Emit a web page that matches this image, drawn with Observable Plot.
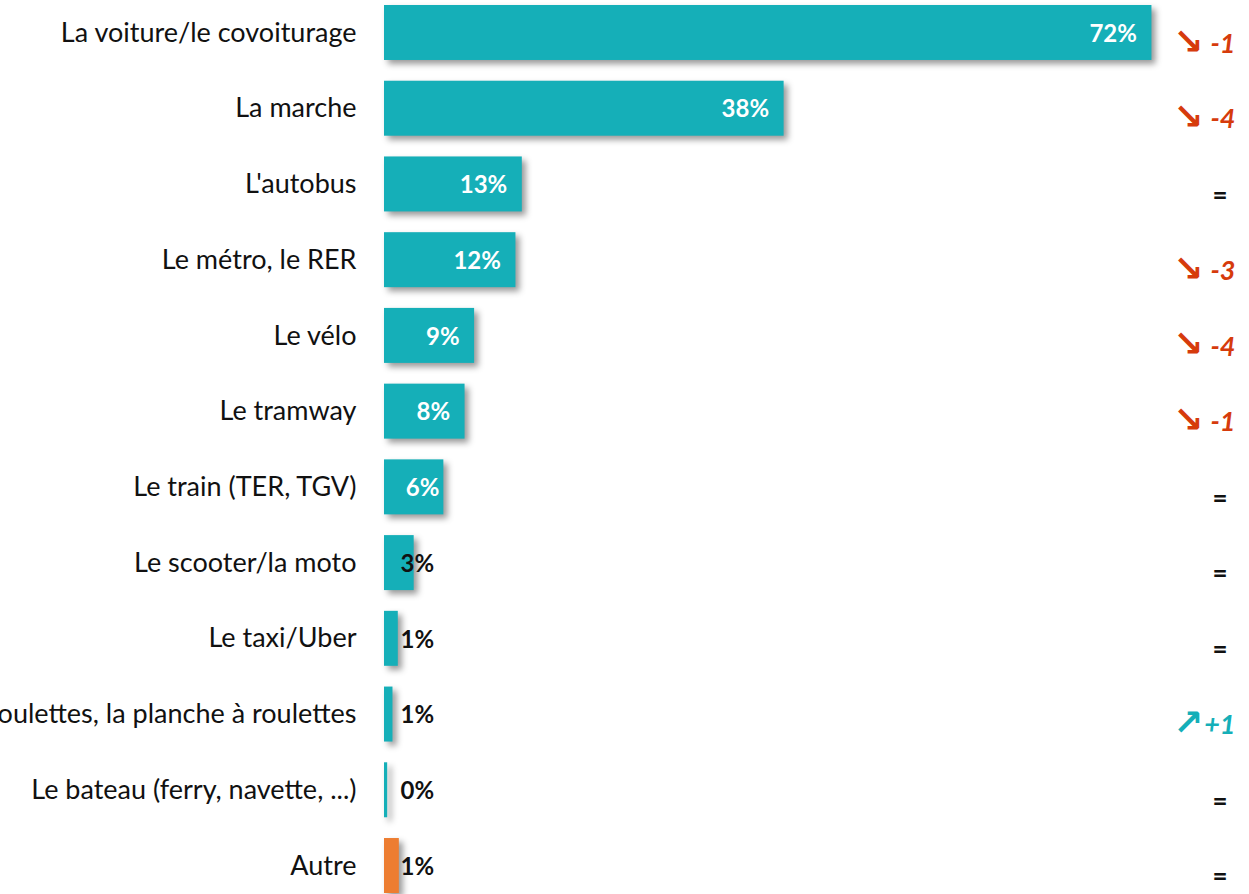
<!DOCTYPE html>
<html>
<head>
<meta charset="utf-8">
<script src="https://cdn.jsdelivr.net/npm/d3@7"></script>
<script src="https://cdn.jsdelivr.net/npm/@observablehq/plot@0.6"></script>
<style>
  html, body { margin: 0; padding: 0; background: #fff; overflow: hidden; }
  #chart { width: 1249px; height: 894px; }
</style>
</head>
<body>
<div id="chart"></div>
<script>
const categories = [
  "La voiture/le covoiturage",
  "La marche",
  "L'autobus",
  "Le métro, le RER",
  "Le vélo",
  "Le tramway",
  "Le train (TER, TGV)",
  "Le scooter/la moto",
  "Le taxi/Uber",
  "Les patins à roulettes, la planche à roulettes",
  "Le bateau (ferry, navette, ...)",
  "Autre"
];
const values = [72.4, 37.7, 13.0, 12.4, 8.5, 7.6, 5.6, 2.8, 1.3, 0.8, 0.3, 1.4];
const valueLabels = ["72%", "38%", "13%", "12%", "9%", "8%", "6%", "3%", "1%", "1%", "0%", "1%"];
const changes = ["-1", "-4", "=", "-3", "-4", "-1", "=", "=", "=", "+1", "=", "="];
const groups = ["main", "main", "main", "main", "main", "main", "main", "main", "main", "main", "main", "other"];

const data = categories.map((c, i) => ({
  category: c,
  value: values[i],
  label: valueLabels[i],
  change: changes[i],
  group: groups[i]
}));

const teal = "#15AFB8";
const orange = "#ED7D31";
const red = "#D63B0C";
const font = "Lato, 'Open Sans', sans-serif";

const inside = data.filter(d => d.value >= 5);
const outside = data.filter(d => d.value < 5);
const trend = data.filter(d => d.change !== "=");
const same = data.filter(d => d.change === "=");
const arrowOf = d => d.change.startsWith("-") ? "\u2198" : "\u2197";
const colorOf = d => d.change.startsWith("-") ? red : teal;

const chart = Plot.plot({
  width: 1249,
  height: 894,
  marginLeft: 384,
  marginRight: 17,
  marginTop: 5,
  marginBottom: 1,
  style: { fontFamily: font, background: "#fff", overflow: "hidden" },
  x: { domain: [0, 80], axis: null },
  y: { domain: categories, paddingInner: 0.274, paddingOuter: 0, round: false, label: null },
  color: { domain: ["main", "other"], range: [teal, orange] },
  marks: [
    Plot.axisY({ tickSize: 0, tickPadding: 28, fontSize: 27, fill: "#111", label: null }),
    Plot.barX(data, { x: "value", y: "category", fill: "group" }),
    Plot.text(inside, {
      x: d => Math.max(d.value, 6.6), y: "category", text: "label",
      textAnchor: "end", dx: -15, dy: 1, fill: "#fff",
      fontSize: 24, fontWeight: "bold"
    }),
    Plot.text(outside, {
      x: 0, y: "category", text: "label",
      textAnchor: "start", dx: 16, dy: 1, fill: "#111",
      fontSize: 24, fontWeight: "bold"
    }),
    Plot.text(trend, {
      x: () => 80, y: "category",
      text: d => d.change,
      textAnchor: "end", dx: 3, dy: 11,
      fill: d => colorOf(d),
      fontSize: 27, fontWeight: "bold", fontStyle: "italic"
    }),
    Plot.text(trend, {
      x: () => 80, y: "category",
      text: d => arrowOf(d),
      textAnchor: "end", dx: -29, dy: 9,
      fill: d => colorOf(d),
      fontSize: 36, fontWeight: "bold", fontFamily: "DejaVu Sans"
    }),
    Plot.text(same, {
      x: () => 80, y: "category",
      text: "change",
      textAnchor: "end", dx: -5, dy: 11,
      fill: "#111",
      fontSize: 26, fontWeight: "bold"
    })
  ]
});

// drop shadow on bars
const barGroup = chart.querySelector('g[aria-label="bar"]');
if (barGroup) barGroup.setAttribute("style", "filter: drop-shadow(4px 4px 3px rgba(0,0,0,0.4))");

document.getElementById("chart").appendChild(chart);
</script>
</body>
</html>
